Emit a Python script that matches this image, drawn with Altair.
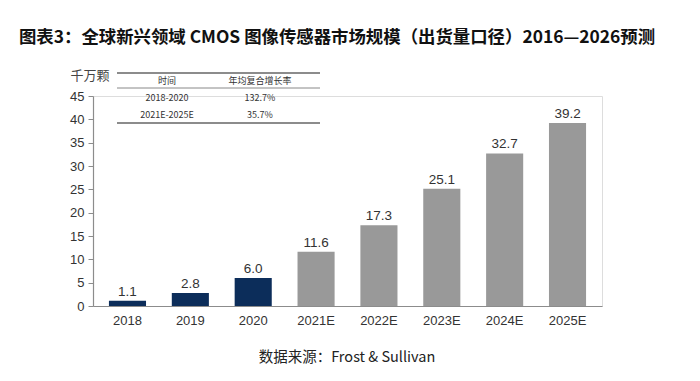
import altair as alt
import pandas as pd

categories = ["2018", "2019", "2020", "2021E", "2022E", "2023E", "2024E", "2025E"]
values = [1.1, 2.8, 6.0, 11.6, 17.3, 25.1, 32.7, 39.2]
kinds = ["实际", "实际", "实际", "预测", "预测", "预测", "预测", "预测"]

table_header = ["时间", "年均复合增长率"]
table_periods = ["2018-2020", "2021E-2025E"]
table_cagr = ["132.7%", "35.7%"]

title_text = "图表3：全球新兴领域 CMOS 图像传感器市场规模（出货量口径）2016—2026预测"
unit_text = "千万颗"
source_text = "数据来源：Frost & Sullivan"

FONT = "Noto Sans CJK SC"
W, H = 509, 210

df = pd.DataFrame({"cat": categories, "val": values, "kind": kinds,
                   "label": [f"{v:.1f}" for v in values]})

x = alt.X("cat:N", sort=categories, title=None,
          scale=alt.Scale(paddingInner=0.41, paddingOuter=0.2535),
          axis=alt.Axis(labelAngle=0, labelFont="Liberation Sans", labelFontSize=13,
                        labelColor="#333333", ticks=False, labelPadding=8,
                        domainColor="#8c8c8c", domainWidth=1.2))
y = alt.Y("val:Q", title=None,
          scale=alt.Scale(domain=[0, 45], nice=False),
          axis=alt.Axis(values=list(range(0, 50, 5)), labelFont="Liberation Sans",
                        labelFontSize=13, labelColor="#333333", grid=False,
                        labelOverlap=False, labelFlush=False,
                        tickColor="#8c8c8c", tickSize=5, domainColor="#8c8c8c",
                        domainWidth=1.2, labelPadding=4))

bars = alt.Chart(df).mark_bar().encode(
    x=x, y=y,
    color=alt.Color("kind:N", scale=alt.Scale(domain=["实际", "预测"],
                                              range=["#0c2d5a", "#999999"]), legend=None),
)
labels = alt.Chart(df).mark_text(dy=-9, font="Liberation Sans", fontSize=13.5,
                                 color="#333333").encode(
    x=x, y=y, text="label:N")

def txt(s, xv, yv, size, weight="normal", color="#222222", font=FONT, align="center"):
    return alt.Chart(pd.DataFrame({"t": [s]})).mark_text(
        font=font, fontSize=size, fontWeight=weight, color=color, align=align,
        baseline="middle").encode(x=alt.value(xv), y=alt.value(yv), text="t:N")

def hline(x1, x2, yv, width, color="#666666"):
    return alt.Chart(pd.DataFrame({"a": [0]})).mark_rule(
        color=color, strokeWidth=width).encode(
        x=alt.value(x1), x2=alt.value(x2), y=alt.value(yv))

annots = [
    txt(title_text, 244, -58, 17.4, weight="bold", color="#111111"),
    txt(unit_text, -3, -20, 13, color="#444444"),
    txt(source_text, 254, 262, 14.5, color="#222222"),
    hline(24, 227, -23, 1.6),
    hline(24, 227, -8, 1.0, "#888888"),
    hline(24, 227, 27, 1.6),
    txt(table_header[0], 74, -15.5, 9, color="#333333"),
    txt(table_header[1], 167, -15.5, 9, color="#333333"),
    txt(table_periods[0], 74, 2, 9, color="#333333"),
    txt(table_cagr[0], 167, 2, 9, color="#333333"),
    txt(table_periods[1], 74, 19, 9, color="#333333"),
    txt(table_cagr[1], 167, 19, 9, color="#333333"),
]

chart = alt.layer(bars, labels, *annots).properties(
    width=W, height=H,
    autosize=alt.AutoSizeParams(type="none"),
    padding={"left": 85, "top": 88, "right": 90, "bottom": 75},
).configure_view(stroke=None).configure(background="white")

chart.save("out.html", embed_options={"renderer": "svg", "actions": False})
